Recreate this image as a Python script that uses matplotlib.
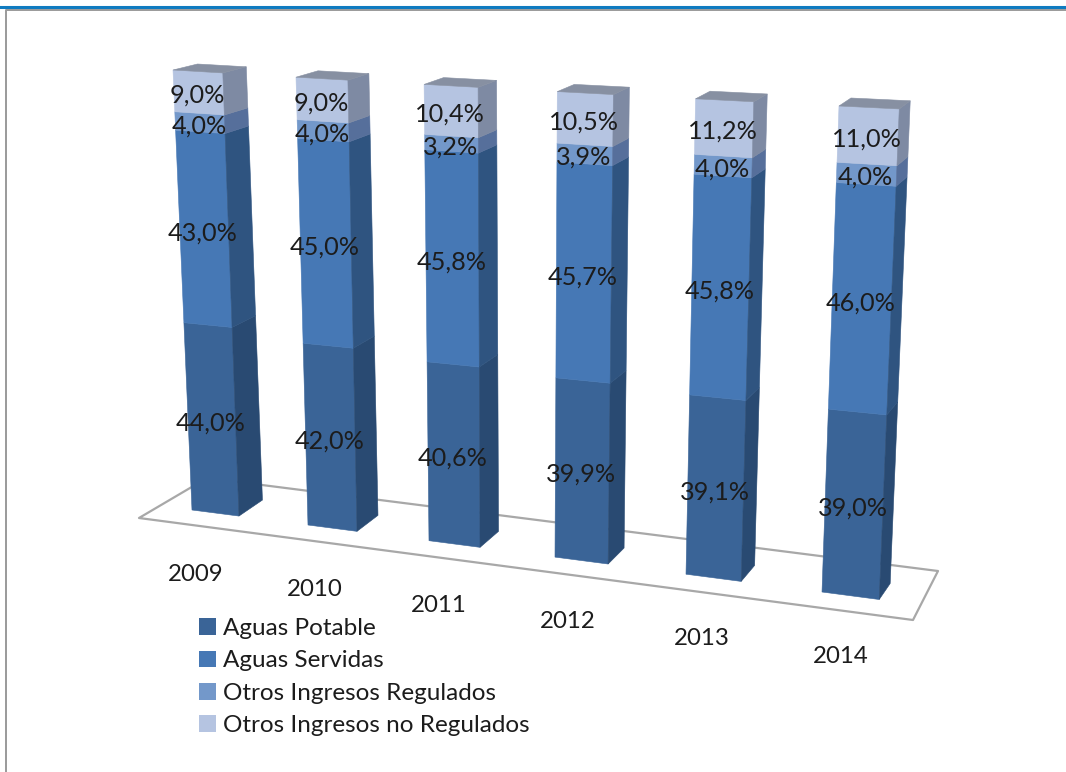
import matplotlib
matplotlib.use("Agg")
from matplotlib import pyplot as plt
from matplotlib.patches import Patch

YEARS = ["2009", "2010", "2011", "2012", "2013", "2014"]
AGUAS_POTABLE = [44.0, 42.0, 40.6, 39.9, 39.1, 39.0]
AGUAS_SERVIDAS = [43.0, 45.0, 45.8, 45.7, 45.8, 46.0]
OTROS_REGULADOS = [4.0, 4.0, 3.2, 3.9, 4.0, 4.0]
OTROS_NO_REGULADOS = [9.0, 9.0, 10.4, 10.5, 11.2, 11.0]
SERIES_NAMES = ["Aguas Potable", "Aguas Servidas", "Otros Ingresos Regulados", "Otros Ingresos no Regulados"]

FRONT = ["#3A6497", "#4678B5", "#7398CA", "#B5C4E1"]
SIDE = ["#294A72", "#2F5480", "#566F9B", "#7E8AA3"]
TOP_COLOR = "#8790A2"
FONT = "Lato"
BAR_W = 0.41  # in category units


# The 3d look of the chart: category, depth (0-1) and value (0-100) to picture pixels
def project(c, d, v):
    share = v / 100.0
    t = share / (share + 1.06 * (1 - share))  # the top of the bars is nearer to the viewer
    x_bottom = 192 + 113.5 * c + 2.5 * c ** 2
    y_bottom = 510 + 14.65 * c + 0.35 * c ** 2
    x_top = 173 + 120.45 * c + 2.55 * c ** 2
    y_top = 70 + 7.2 * c
    x = x_bottom + (x_top - x_bottom) * t + d * (24.5 - 2.5 * c)
    y = y_bottom + (y_top - y_bottom) * t + d * (-16 + (10 - 0.4 * c) * t)
    return x, y


def face(points):
    xs, ys = zip(*points)
    return xs, ys


fig = plt.figure(figsize=(10.66, 7.72), dpi=100)
ax = fig.add_axes([0, 0, 1, 1])
ax.set_xlim(0, 1066)
ax.set_ylim(772, 0)
ax.axis("off")

# Page furniture
ax.plot([0, 1066], [7, 7], color="#0F7BC0", lw=2.2)
ax.plot([5.5, 5.5, 1066], [772, 10, 10], color="#9A9A9A", lw=1.4)

# Floor of the chart
ax.plot([207, 139, 913, 938, 207], [478, 518, 620, 571, 478], color="#A8A8A8", lw=1.6, zorder=1)

series = [AGUAS_POTABLE, AGUAS_SERVIDAS, OTROS_REGULADOS, OTROS_NO_REGULADOS]
for c, year in enumerate(YEARS):
    base = 0.0
    for s, values in enumerate(series):
        val = values[c]
        end = min(base + val, 100.0)
        xs, ys = face([project(c, 0, base), project(c + BAR_W, 0, base),
                       project(c + BAR_W, 0, end), project(c, 0, end)])
        ax.fill(xs, ys, color=FRONT[s], lw=0.4, zorder=2 + c)
        xs, ys = face([project(c + BAR_W, 0, base), project(c + BAR_W, 1, base),
                       project(c + BAR_W, 1, end), project(c + BAR_W, 0, end)])
        ax.fill(xs, ys, color=SIDE[s], lw=0.4, zorder=2 + c)
        lx, ly = project(c + BAR_W / 2, 0, base + val / 2)
        ax.text(lx - 1, ly + 3, ("%.1f%%" % val).replace(".", ","), ha="center", va="center",
                fontsize=18.2, family=FONT, color="#1C1C1C", zorder=20)
        base = end
    xs, ys = face([project(c, 0, 100), project(c + BAR_W, 0, 100),
                   project(c + BAR_W, 1, 100), project(c, 1, 100)])
    ax.fill(xs, ys, color=TOP_COLOR, lw=0.4, zorder=2 + c)
    bx, by = project(c + BAR_W / 2, 0, 0)
    ax.text(bx - 20 + 2 * c, by + 61, year, ha="center", va="center",
            fontsize=17.3, family=FONT, color="#1C1C1C", zorder=20)

handles = [Patch(facecolor=col, edgecolor="none") for col in FRONT]
ax.legend(handles, SERIES_NAMES, loc="upper left", bbox_to_anchor=(199 / 1066, 1 - 618 / 772),
          frameon=False, handlelength=0.68, handleheight=0.68, handletextpad=0.3,
          labelspacing=0.47, borderpad=0, borderaxespad=0,
          prop={"family": FONT, "size": 17.5}, labelcolor="#1C1C1C")

fig.savefig("out.png", dpi=100)
